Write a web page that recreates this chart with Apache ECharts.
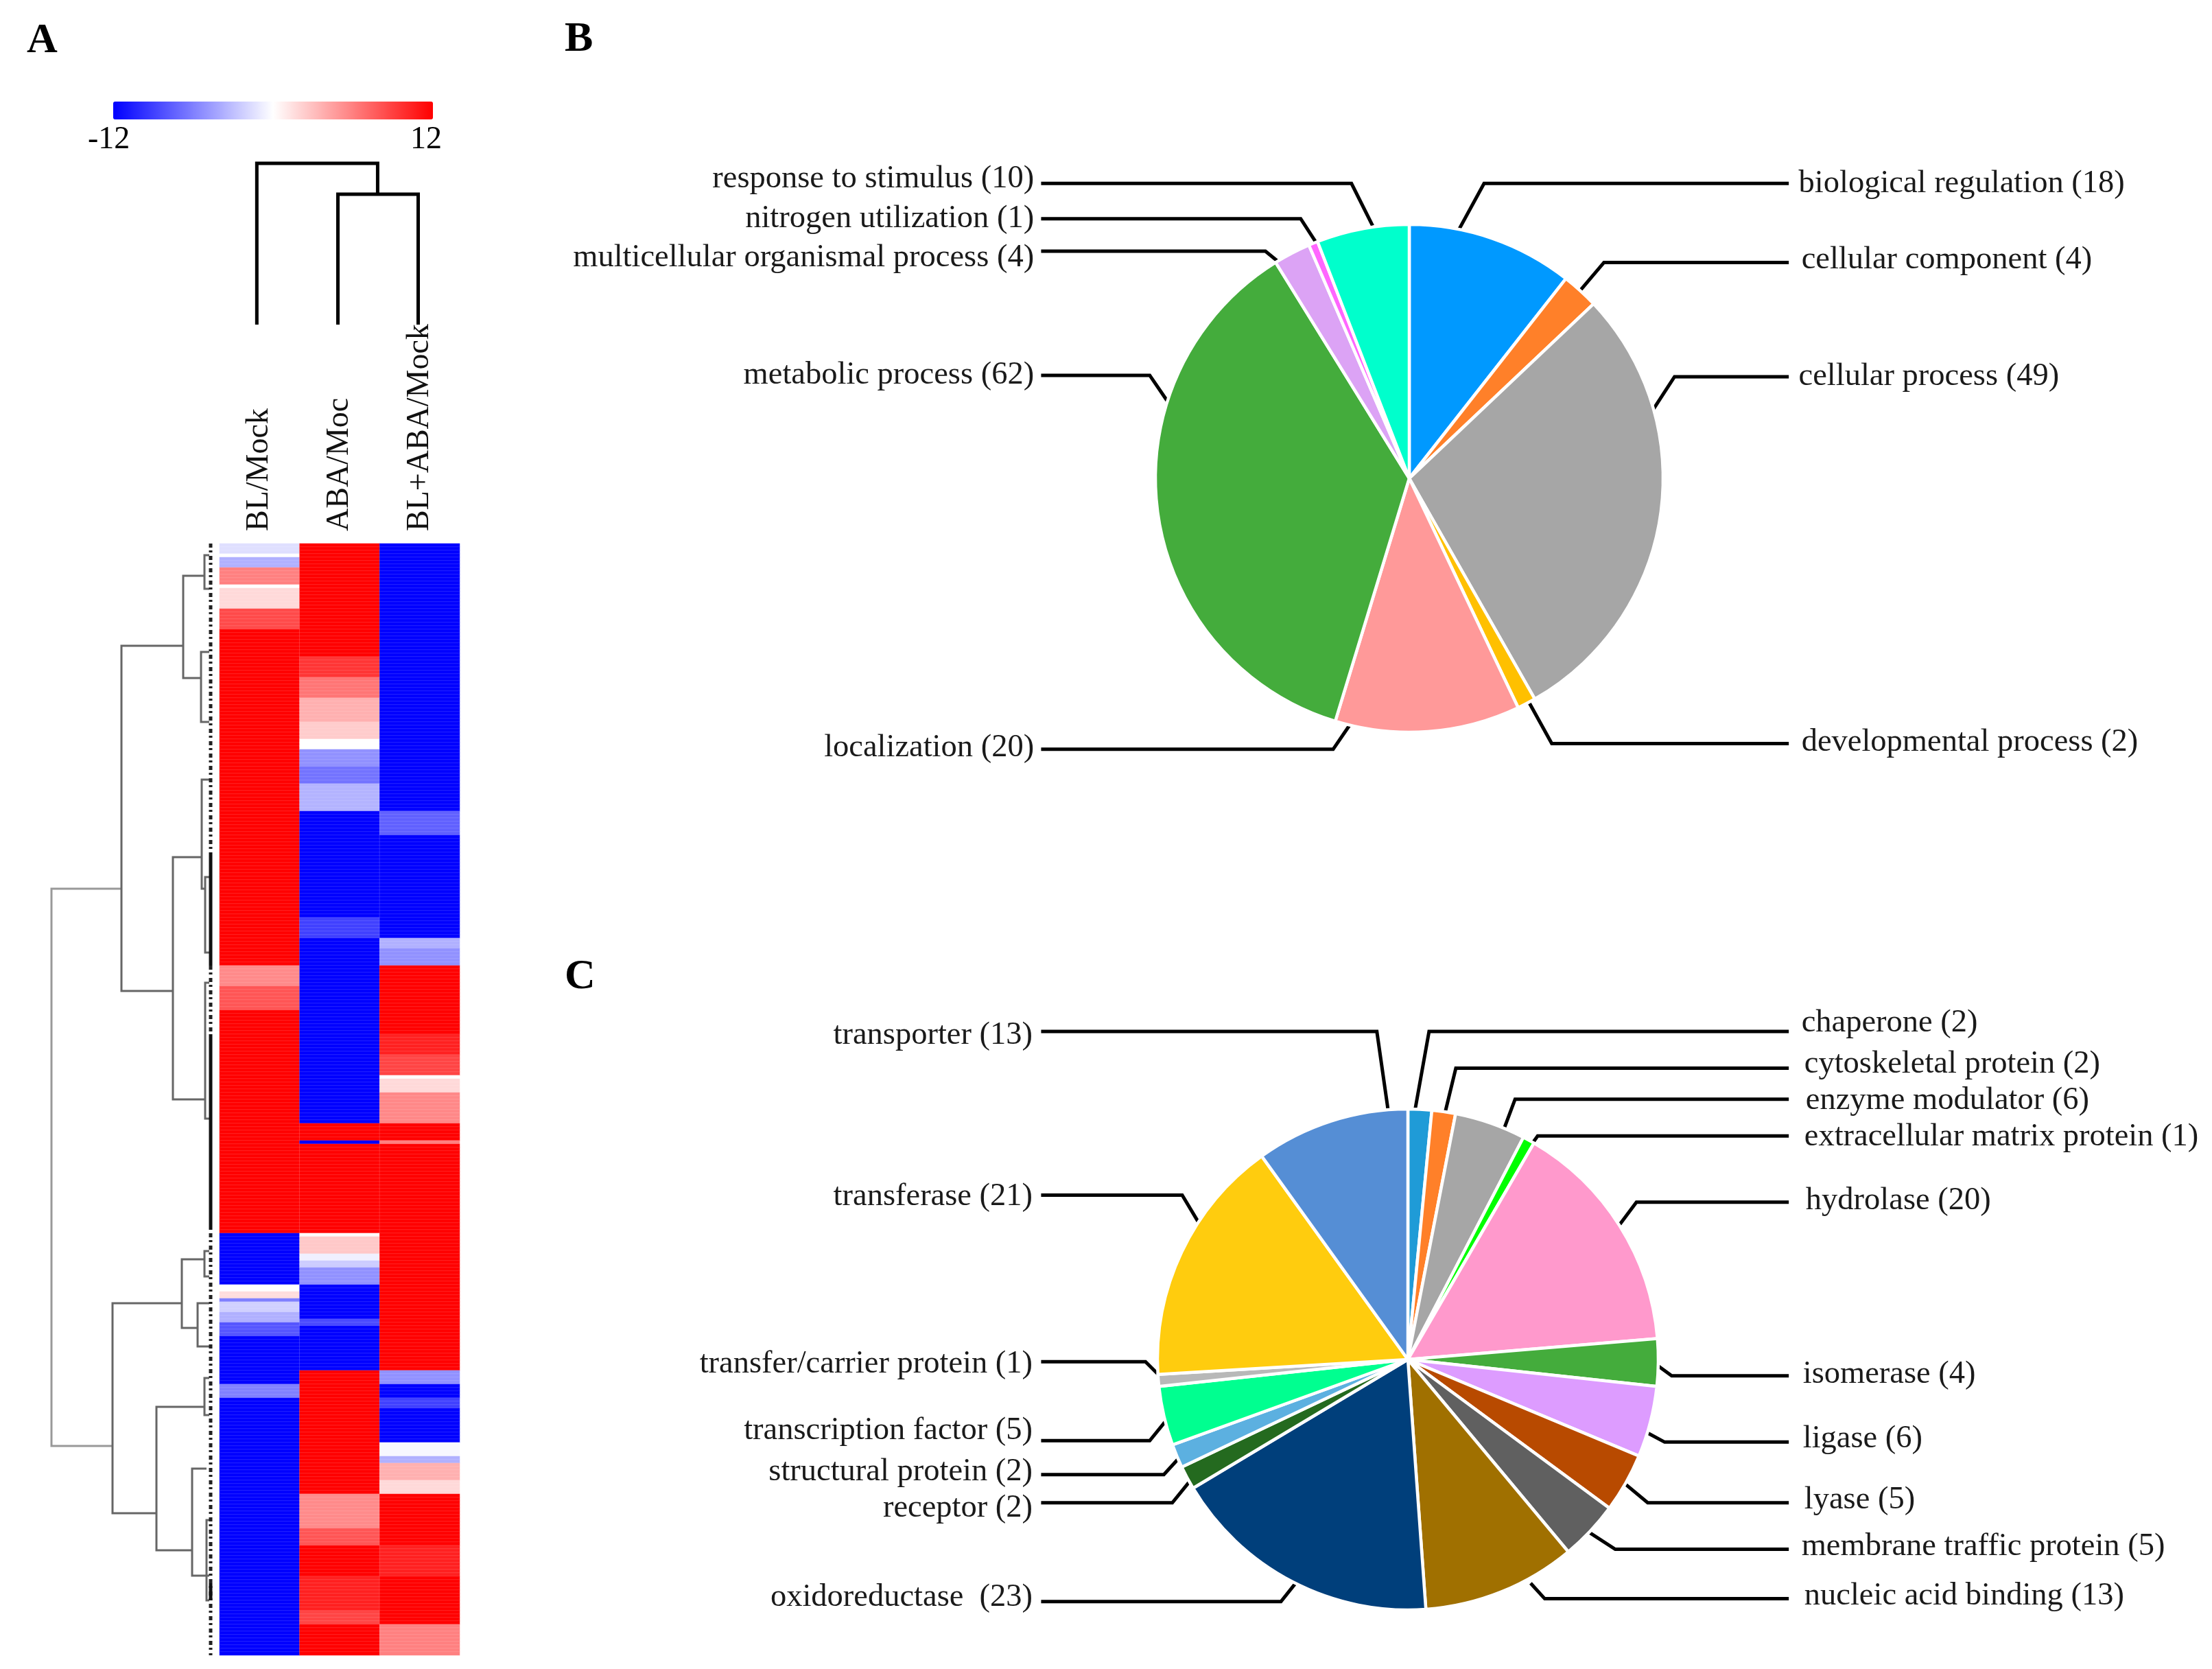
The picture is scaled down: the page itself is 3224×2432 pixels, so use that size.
<!DOCTYPE html>
<html><head><meta charset="utf-8">
<style>html,body{margin:0;padding:0;background:#fff}#c{width:3224px;height:2432px}</style>
<script src="https://cdn.jsdelivr.net/npm/echarts@6/dist/echarts.min.js"></script>
</head><body><div id="c"></div>
<script>
// ---------- Panel A: heatmap (run lengths: [log-ratio value, end row]) ----------
const ROW_COUNT = 324;
const columns = ['BL/Mock', 'ABA/Moc', 'BL+ABA/Mock'];
const runsBL = [[-1.5,3],[0,4],[-3.7,7],[6,12],[0,13],[1.8,19],[8.5,25],[12,123],[5.5,129],[8,136],[12,201],
  [-12,216],[0,218],[1.6,220],[-6,221],[-2.2,224],[-3.7,227],[-8,231],[-12,245],[-6,249],[-12,324]];
const runsABA = [[12,33],[9.5,39],[6.5,45],[3.7,52],[2.4,57],[0,60],[-5.2,65],[-6.6,70],[-3.6,78],[-12,109],[-9,115],
  [-12,169],[12,174],[-12,175],[12,201],[0.3,202],[2.6,207],[-0.7,209],[-2.4,211],[-5.2,216],[-12,226],[-8.5,228],
  [-12,241],[12,277],[5.5,287],[8,292],[12,301],[10.5,311],[8.8,315],[12,324]];
const runsBLABA = [[-12,78],[-7.5,85],[-12,115],[-3.7,118],[-5.2,123],[12,143],[10.5,149],[8.8,155],[0,156],[1.8,160],[5.6,169],
  [12,174],[6,175],[12,241],[-5.2,245],[-12,249],[-9,252],[-12,262],[-0.4,266],[-3.7,268],[3.7,273],[1.8,277],
  [12,292],[10.5,301],[12,315],[6,324]];

// ---------- Panel A: dendrograms ----------
// bracket: [stem depth, top row, bottom row, top child depth, bottom child depth]
const rowBrackets = [
  [127,29.8,130.4,217,202],
  [217,9.4,39.2,248,243],[248,3.4,13.2,255,255],[243,31.6,52,255,255],
  [202,91.4,162,244,249],[244,68.8,100.6,255,249],[249,97.2,119.2,255,255],[249,128,167.6,255,255],
  [114,221.4,282.6,215,178],
  [215,208.6,228.6,248,238],[248,206.2,213.6,255,255],[238,221.4,234,255,255],
  [178,251.6,293.4,248,230],[248,243.2,254,255,255],[230,269.6,300.8,251,255],[251,284.6,308,255,255]
];
const rootBracket = [[25,100.6,263,127,114]];
const leafDashedSpans = [[0,90],[123,143],[201,324]];
const leafSolidSpans = [[90,123],[143,200],[303,308]];
// column bracket: [stem column, height, left column, right column, left child height, right child height]
const colBrackets = [[1.495,235,-0.01,1.495,0,190],[1.495,190,1,2,0,0]];

// ---------- Panel B: pie ----------
const bioNames = ['biological regulation','cellular component','cellular process','developmental process','localization','metabolic process','multicellular organismal process','nitrogen utilization','response to stimulus'];
const bioValues = [18,4,49,2,20,62,4,1,10];
const bioColors = ['#0099ff','#ff8029','#a6a6a6','#ffc000','#ff9999','#44ac3c','#dca3f5','#ff66ff','#00ffcc'];

// ---------- Panel C: pie ----------
const molNames = ['chaperone','cytoskeletal protein','enzyme modulator','extracellular matrix protein','hydrolase','isomerase','ligase','lyase','membrane traffic protein','nucleic acid binding','oxidoreductase ','receptor','structural protein','transcription factor','transfer/carrier protein','transferase','transporter'];
const molValues = [2,2,6,1,20,4,6,5,5,13,23,2,2,5,1,21,13];
const molColors = ['#1f9bd7','#ff8029','#a6a6a6','#00ff00','#ff99cc','#44ac3c','#dd9cff','#b84a00','#606060','#a07000','#003f7b','#246a1f','#5cb0e0','#00ff90','#b8b8b8','#ffcc0e','#558ed5'];

// ---------- leader layout, in 1568-wide sketch units ----------
const U = 3224/1568;
// [label anchor x, label centre y, start x, start y, elbow x, elbow y, end x]
const bioLeaders = [
 [1275,130, 1034,163,1052,130,1268],[1277,184, 1120,206,1137,186,1268],[1275,267, 1172,290,1187,267,1268],[1277,526, 1084,498,1100,527,1268],
 [733,530, 958,512,945,531,738],[733,266, 828,285,815,266,738],[733,183, 908,187,897,178,738],[733,155, 933,172,922,155,738],[733,127, 973,160,958,130,738]];
const molLeaders = [
 [1277,725, 1003,787,1013,731,1268],[1279,754, 1024,790,1032,757,1268],[1280,780, 1065,803,1074,779,1268],[1279,806, 1085,812,1090,805,1268],
 [1280,851, 1148,868,1160,852,1268],[1278,974, 1174,967,1185,975,1268],[1278,1020, 1167,1015,1180,1022,1268],[1279,1063, 1150,1050,1168,1065,1268],
 [1277,1096, 1125,1085,1145,1098,1268],[1279,1131, 1085,1122,1095,1133,1268],
 [732,1132, 920,1120,908,1135,738],[732,1069, 844,1049,831,1065,738],[732,1043, 836,1033,825,1045,738],[732,1014, 828,1005,815,1021,738],
 [732,967, 823,976,812,965,738],[732,848, 850,867,838,847,738],[732,734, 984,787,976,731,738]];

const FONT = '"Liberation Serif","Times New Roman",serif';

function expand(runs){const o=[];let s=0;for(const [v,e] of runs){for(let r=s;r<e;r++)o.push(v);s=e;}return o;}
const heatData=[];
[runsBL,runsABA,runsBLABA].forEach((runs,c)=>expand(runs).forEach((v,r)=>heatData.push([c,r,v])));
const rowLabels=Array.from({length:ROW_COUNT},(_,i)=>String(i));

function rowPts(list){const p=[];list.forEach(b=>{p.push([b[3],b[1]],[b[0],b[1]],[b[0],b[2]],[b[4],b[2]],['-','-']);});return p;}
function spanPts(list){const p=[];list.forEach(s=>{p.push([257,s[0]],[257,s[1]],['-','-']);});return p;}
function colPts(list){const p=[];list.forEach(b=>{p.push([b[2],b[4]],[b[2],b[1]],[b[3],b[1]],[b[3],b[5]],['-','-']);});return p;}

function pie(names,values,colors,leaders,center,radius){
 return {type:'pie',center,radius,startAngle:90,clockwise:true,avoidLabelOverlap:false,silent:true,minAngle:0,
  itemStyle:{borderColor:'#fff',borderWidth:4.5},
  data:names.map((n,i)=>({name:n,value:values[i],itemStyle:{color:colors[i]}})),
  label:{show:true,position:'outside',formatter:p=>p.name+' ('+p.value+')',fontFamily:FONT,fontSize:46.5,color:'#1a1a1a'},
  labelLine:{show:true,length:40,length2:40,smooth:false,lineStyle:{color:'#000',width:5}},
  labelLayout:p=>{const l=leaders[p.dataIndex];const right=l[0]>1000;
    return {x:l[0]*U,y:l[1]*U,align:right?'left':'right',verticalAlign:'middle',
      labelLinePoints:[[l[2]*U,l[3]*U],[l[4]*U,l[5]*U],[l[6]*U,l[5]*U]]};}
 };
}
function ln(xi,yi,data,color,width,dash){return {type:'line',xAxisIndex:xi,yAxisIndex:yi,data,symbol:'none',silent:true,clip:false,connectNulls:false,
  lineStyle:{color,width,type:dash||'solid',join:'miter',cap:'butt'}};}

const chart=echarts.init(document.getElementById('c'),null,{renderer:'canvas'});
chart.setOption({
 animation:false,backgroundColor:'#fff',
 title:[
  {text:'A',left:34,top:24,textStyle:{fontFamily:FONT,fontSize:62,fontWeight:'bold',color:'#000'}},
  {text:'B',left:818,top:22,textStyle:{fontFamily:FONT,fontSize:62,fontWeight:'bold',color:'#000'}},
  {text:'C',left:818,top:1388,textStyle:{fontFamily:FONT,fontSize:62,fontWeight:'bold',color:'#000'}},
  {text:'-12',left:123,top:176,textStyle:{fontFamily:FONT,fontSize:46,fontWeight:'normal',color:'#000'}},
  {text:'12',left:593,top:176,textStyle:{fontFamily:FONT,fontSize:46,fontWeight:'normal',color:'#000'}}
 ],
 visualMap:{type:'continuous',seriesIndex:0,dimension:2,min:-12,max:12,orient:'horizontal',left:165,top:148,itemWidth:26,itemHeight:466,padding:0,
  calculable:false,realtime:false,text:null,showLabel:false,inRange:{color:['#0000ff','#ffffff','#ff0000']},handleSize:0,indicatorSize:0},
 grid:[
  {left:320,top:792,width:350,height:1620},
  {left:50,top:792,width:260,height:1620},
  {left:317,top:238,width:351,height:235}
 ],
 xAxis:[
  {gridIndex:0,type:'category',data:columns,position:'top',axisLine:{show:false},axisTick:{show:false},splitLine:{show:false},
   axisLabel:{rotate:-90,margin:18,interval:0,fontFamily:FONT,fontSize:46,color:'#111'}},
  {gridIndex:1,type:'value',min:0,max:260,show:false},
  {gridIndex:2,type:'value',min:-0.5,max:2.5,show:false}
 ],
 yAxis:[
  {gridIndex:0,type:'category',data:rowLabels,inverse:true,show:false},
  {gridIndex:1,type:'value',min:0,max:ROW_COUNT,inverse:true,show:false},
  {gridIndex:2,type:'value',min:0,max:235,show:false}
 ],
 series:[
  {type:'heatmap',xAxisIndex:0,yAxisIndex:0,data:heatData,silent:true,progressive:0,emphasis:{disabled:true},
   itemStyle:{borderColor:'rgba(255,255,255,0.16)',borderWidth:0.8}},
  ln(1,1,rowPts(rootBracket),'#999999',3),
  ln(1,1,rowPts(rowBrackets),'#666666',3),
  ln(1,1,spanPts(leafDashedSpans),'#222222',5,[6,4,3,5]),
  ln(1,1,spanPts(leafSolidSpans),'#111111',5),
  ln(2,2,colPts(colBrackets),'#000000',5),
  pie(bioNames,bioValues,bioColors,bioLeaders,[2054,697],370),
  pie(molNames,molValues,molColors,molLeaders,[2052,1981],365)
 ]
});
</script></body></html>
